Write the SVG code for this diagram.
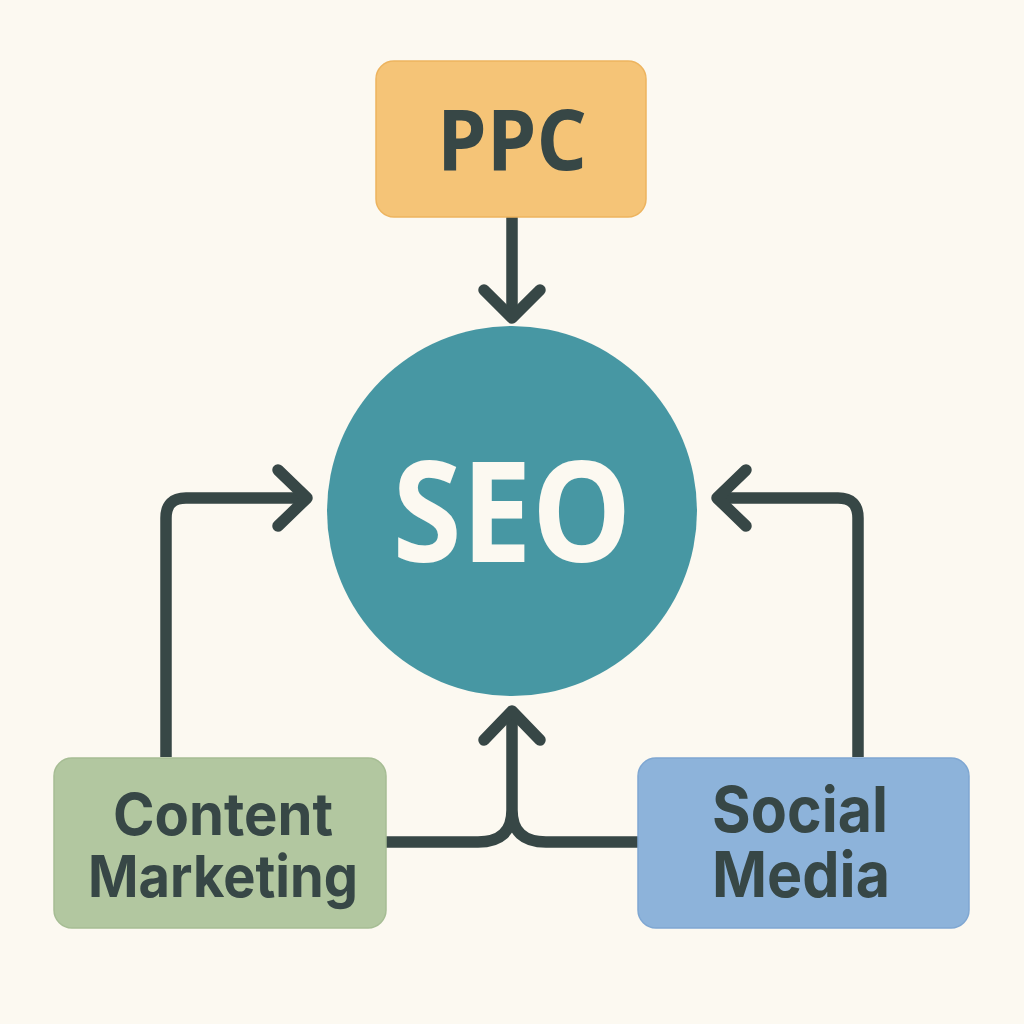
<svg xmlns="http://www.w3.org/2000/svg" width="1024" height="1024" viewBox="0 0 1024 1024">
<style>
.conn{fill:none;stroke:#374746;stroke-width:11.5;stroke-linecap:round;stroke-linejoin:round}
.lbl{font-family:Inter,"Open Sans","Liberation Sans",sans-serif;font-weight:700;fill:#374746;text-anchor:middle}
.big{font-family:"Open Sans",Inter,"Liberation Sans",sans-serif;font-weight:700}
.box{stroke-width:1.5}
</style>
<rect width="1024" height="1024" fill="#FCF9F1"/>
<g id="connectors">
  <path class="conn" d="M512 217 V316" style="stroke-linecap:butt"/>
  <path class="conn" d="M484 290 L512 318 L540 290"/>
  <path class="conn" d="M166 757 V518 Q166 498 186 498 H306" style="stroke-linecap:butt"/>
  <path class="conn" d="M278 470 L307 498 L278 526"/>
  <path class="conn" d="M858 757 V518 Q858 498 838 498 H718" style="stroke-linecap:butt"/>
  <path class="conn" d="M746 470 L717 498 L746 526"/>
  <path class="conn" d="M386 842 H478 Q512 842 512 810 V712 M638 842 H546 Q512 842 512 810" style="stroke-linecap:butt"/>
  <path class="conn" d="M484 740 L512 711 L540 740"/>
</g>
<g id="ppc">
  <rect class="box" x="376" y="61" width="270" height="156" rx="18" fill="#F5C477" stroke="#EDB45F"/>
  <text class="lbl big" x="512" y="170" font-size="84" textLength="150" lengthAdjust="spacingAndGlyphs">PPC</text>
</g>
<g id="seo">
  <circle cx="512" cy="511" r="185" fill="#4797A3"/>
  <text class="lbl big" x="512" y="562" font-size="140" style="fill:#FCF9F1" textLength="239" lengthAdjust="spacingAndGlyphs">SEO</text>
</g>
<g id="content-marketing">
  <rect class="box" x="54" y="758" width="332" height="170" rx="18" fill="#B2C7A0" stroke="#A6BD94"/>
  <text class="lbl" x="223" y="835" font-size="58" textLength="220" lengthAdjust="spacingAndGlyphs">Content</text>
  <text class="lbl" x="223" y="897" font-size="58" textLength="270" lengthAdjust="spacingAndGlyphs">Marketing</text>
</g>
<g id="social-media">
  <rect class="box" x="638" y="758" width="331" height="170" rx="18" fill="#8DB3DA" stroke="#7FA7D2"/>
  <text class="lbl" x="800" y="832" font-size="63" textLength="176" lengthAdjust="spacingAndGlyphs">Social</text>
  <text class="lbl" x="801" y="897" font-size="63" textLength="178" lengthAdjust="spacingAndGlyphs">Media</text>
</g>
</svg>
